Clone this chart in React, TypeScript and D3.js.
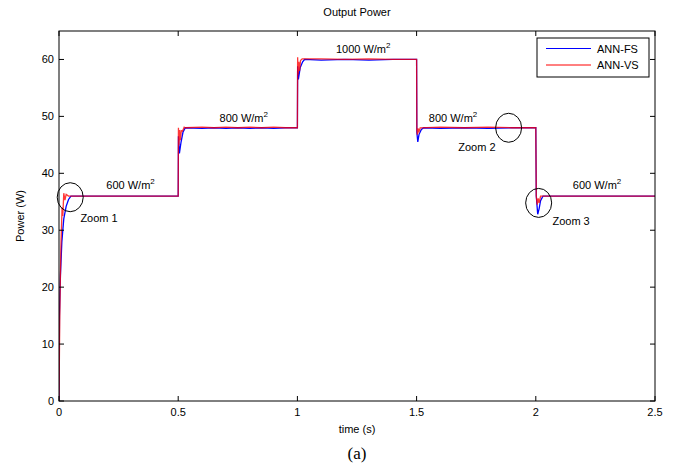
import React from "react";
import * as d3 from "d3";

const W = 680;
const H = 466;

const xTicks = [0, 0.5, 1, 1.5, 2, 2.5];
const xTickLabels = ["0", "0.5", "1", "1.5", "2", "2.5"];
const yTicks = [0, 10, 20, 30, 40, 50, 60];

// ANN-FS (blue): [time, power]
const annFS: [number, number][] = [
  [0, 0], [0.002, 15], [0.006, 22], [0.012, 28], [0.02, 32], [0.03, 34.2], [0.04, 35.4], [0.05, 36], [0.5, 36],
  [0.5, 36], [0.501, 46.5], [0.505, 43.5], [0.512, 45.5], [0.52, 47.2], [0.53, 48], [0.6, 47.9], [0.65, 48], [0.7, 47.9], [0.75, 48],
  [0.8, 47.9], [0.85, 48], [0.9, 47.9], [0.95, 48], [1.0, 48],
  [1.0, 48], [1.001, 58.8], [1.004, 56.5], [1.012, 58.6], [1.022, 59.6], [1.03, 60], [1.1, 59.9], [1.2, 60], [1.3, 59.9], [1.4, 60], [1.5, 60],
  [1.5, 60], [1.501, 47.2], [1.505, 45.5], [1.51, 46.8], [1.52, 47.7], [1.53, 48], [1.6, 47.9], [1.7, 48], [1.8, 47.9], [1.9, 48], [2.0, 48],
  [2.0, 48], [2.002, 36], [2.008, 32.8], [2.014, 33.8], [2.02, 35.2], [2.03, 36], [2.5, 36],
];

// ANN-VS (red): [time, power]
const annVS: [number, number][] = [
  [0, 0], [0.003, 14], [0.005, 20], [0.008, 27], [0.01, 30], [0.013, 34], [0.016, 32.5], [0.02, 36.5], [0.025, 35.3], [0.03, 36.3], [0.04, 36], [0.5, 36],
  [0.5, 36], [0.501, 48], [0.503, 45], [0.506, 47.6], [0.509, 45.8], [0.513, 47.5], [0.518, 47.4], [0.525, 48.1], [0.53, 48],
  [0.6, 48.1], [0.65, 48], [0.7, 48.1], [0.75, 48], [0.8, 48.1], [0.85, 48], [0.9, 48.1], [0.95, 48], [1.0, 48],
  [1.0, 48], [1.001, 60.4], [1.003, 57.3], [1.006, 59.6], [1.009, 58], [1.013, 59.8], [1.02, 60.1], [1.1, 60.1], [1.2, 60], [1.3, 60.1], [1.4, 60], [1.5, 60],
  [1.5, 60], [1.501, 48], [1.503, 46.8], [1.506, 47.9], [1.51, 47.3], [1.515, 48], [1.6, 48.1], [1.7, 48], [1.8, 48.1], [1.9, 48], [2.0, 48],
  [2.0, 48], [2.002, 36], [2.006, 34.5], [2.01, 35.6], [2.014, 34.8], [2.02, 36], [2.5, 36],
];

const levelLabels: { t: number; p: number; text: string }[] = [
  { t: 0.3, p: 37.3, text: "600 W/m" },
  { t: 0.775, p: 49.0, text: "800 W/m" },
  { t: 1.276, p: 61.1, text: "1000 W/m" },
  { t: 1.653, p: 49.1, text: "800 W/m" },
  { t: 2.257, p: 37.2, text: "600 W/m" },
];

const zoomMarks: { t: number; p: number; label: string; lt: number; lp: number }[] = [
  { t: 0.047, p: 35.8, label: "Zoom 1", lt: 0.168, lp: 31.4 },
  { t: 1.886, p: 48.0, label: "Zoom 2", lt: 1.753, lp: 43.9 },
  { t: 2.012, p: 34.8, label: "Zoom 3", lt: 2.148, lp: 30.9 },
];

const seriesNames = ["ANN-FS", "ANN-VS"];
const seriesColors = ["#0000ff", "#ff0000"];

export default function App() {
  const left = 59, right = 655, top = 31, bottom = 401;
  const x = d3.scaleLinear().domain([0, 2.5]).range([left, right]);
  const y = d3.scaleLinear().domain([0, 65]).range([bottom, top]);
  const line = d3.line<[number, number]>().x((d) => x(d[0])).y((d) => y(d[1]));
  const font = "'Liberation Sans', Arial, sans-serif";
  const tl = 5;

  return (
    <svg width={W} height={H} style={{ position: "absolute", left: 0, top: 0, background: "#fff" }} fontFamily={font}>
      <rect x={0} y={0} width={W} height={H} fill="#fff" />
      <defs>
        <clipPath id="plotclip">
          <rect x={left} y={top} width={right - left} height={bottom - top} />
        </clipPath>
      </defs>
      <g clipPath="url(#plotclip)">
        <path d={line(annFS) || ""} fill="none" stroke={seriesColors[0]} strokeWidth={1.3} />
        <path d={line(annVS) || ""} fill="none" stroke={seriesColors[1]} strokeWidth={1.3} strokeOpacity={0.78} />
      </g>
      <rect x={left} y={top} width={right - left} height={bottom - top} fill="none" stroke="#000" strokeWidth={1} />
      {xTicks.map((t, i) => (
        <g key={"xt" + i}>
          <line x1={x(t)} x2={x(t)} y1={bottom} y2={bottom - tl} stroke="#000" />
          <line x1={x(t)} x2={x(t)} y1={top} y2={top + tl} stroke="#000" />
          <text x={x(t)} y={bottom + 15} fontSize={11} textAnchor="middle">{xTickLabels[i]}</text>
        </g>
      ))}
      {yTicks.map((v, i) => (
        <g key={"yt" + i}>
          <line x1={left} x2={left + tl} y1={y(v)} y2={y(v)} stroke="#000" />
          <line x1={right} x2={right - tl} y1={y(v)} y2={y(v)} stroke="#000" />
          <text x={left - 5} y={y(v) + 4} fontSize={11} textAnchor="end">{v}</text>
        </g>
      ))}
      <text x={(left + right) / 2} y={16} fontSize={11} textAnchor="middle">Output Power</text>
      <text x={(left + right) / 2} y={433} fontSize={11} textAnchor="middle">time (s)</text>
      <text transform={`translate(24, ${(top + bottom) / 2}) rotate(-90)`} fontSize={11} textAnchor="middle">Power (W)</text>
      <text x={(left + right) / 2} y={459} fontSize={17} textAnchor="middle" fontFamily="'Liberation Serif', 'Times New Roman', serif">(a)</text>

      {levelLabels.map((l, i) => (
        <text key={"ll" + i} x={x(l.t)} y={y(l.p)} fontSize={11} textAnchor="middle">
          {l.text}
          <tspan fontSize={8} dy={-5}>2</tspan>
        </text>
      ))}
      {zoomMarks.map((z, i) => (
        <g key={"zm" + i}>
          <ellipse cx={x(z.t)} cy={y(z.p)} rx={13} ry={14.5} fill="none" stroke="#000" strokeWidth={1} />
          <text x={x(z.lt)} y={y(z.lp)} fontSize={11} textAnchor="middle">{z.label}</text>
        </g>
      ))}

      <rect x={537} y={38} width={112} height={39} fill="#fff" stroke="#000" strokeWidth={1} />
      {seriesNames.map((n, i) => (
        <g key={"lg" + i}>
          <line x1={546} x2={591} y1={48.5 + i * 16.5} y2={48.5 + i * 16.5} stroke={seriesColors[i]} strokeWidth={1} />
          <text x={597} y={52.5 + i * 16.5} fontSize={11}>{n}</text>
        </g>
      ))}
    </svg>
  );
}
